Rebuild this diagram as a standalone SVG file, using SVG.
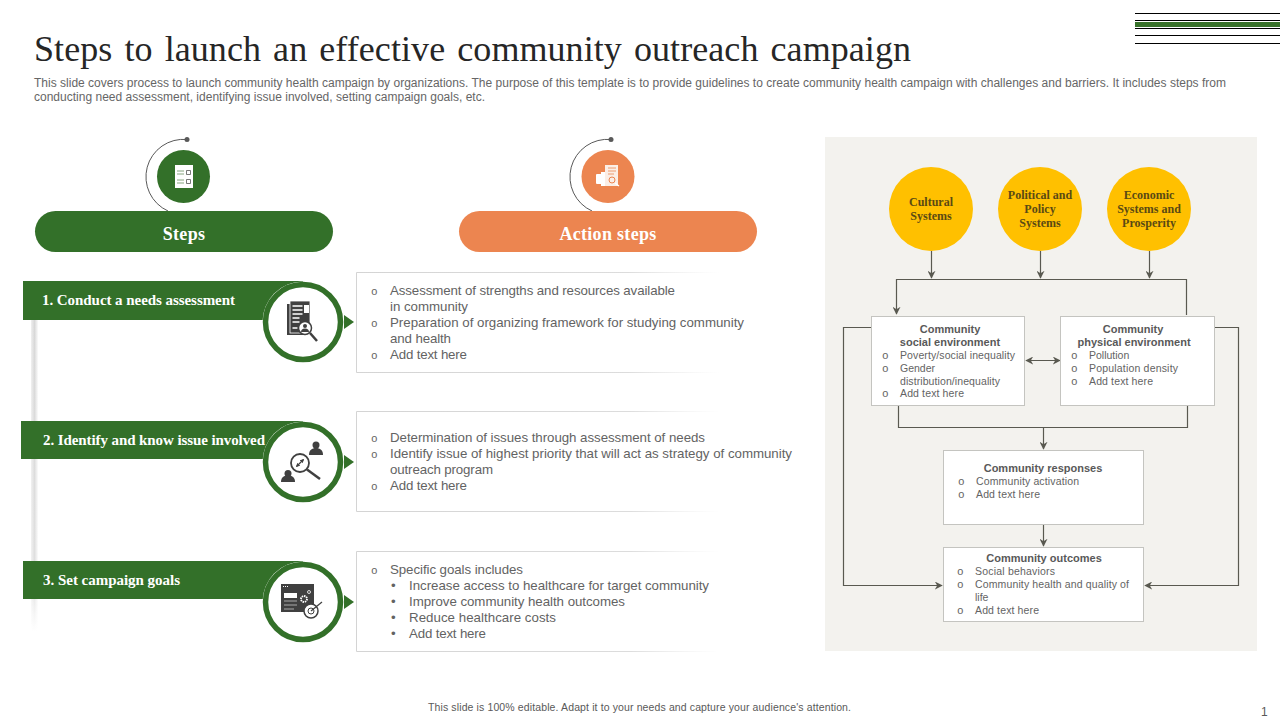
<svg xmlns="http://www.w3.org/2000/svg" width="1280" height="720" viewBox="0 0 1280 720">
<style>
text{font-family:"Liberation Sans",Arial,sans-serif;fill:#595959}
.title{font-family:"Liberation Serif","Times New Roman",serif;font-size:36px;fill:#262626}
.sub{font-size:12px;fill:#666}
.hd{font-family:"Liberation Serif","Times New Roman",serif;font-weight:bold;font-size:18px;fill:#fff;text-anchor:middle;letter-spacing:.3px}
.st{font-family:"Liberation Serif","Times New Roman",serif;font-weight:bold;font-size:15px;fill:#fff}
.b{font-size:13.3px;fill:#636363}
.o{font-family:"Liberation Mono",monospace;font-size:11px;fill:#636363}
.yt{font-family:"Liberation Serif","Times New Roman",serif;font-weight:bold;font-size:12px;fill:#5a4a14;text-anchor:middle}
.bt{font-weight:bold;font-size:11px;fill:#595959;text-anchor:middle}
.s{font-size:10.5px;fill:#636363}
.box{fill:#fff;stroke:#c4c4c0;stroke-width:1}
.con{fill:none;stroke:#595950;stroke-width:1.2}
.ic{fill:#404040}
</style>
<defs>
<marker id="ah" viewBox="0 0 10 10" refX="9" refY="5" markerWidth="8" markerHeight="8" orient="auto-start-reverse" markerUnits="userSpaceOnUse"><path d="M0 0L10 5L0 10L3 5Z" fill="#595950"/></marker>
<marker id="wa" viewBox="0 0 10 10" refX="8" refY="5" markerWidth="4" markerHeight="4" orient="auto-start-reverse" markerUnits="userSpaceOnUse"><path d="M0 0L10 5L0 10Z" fill="#404040"/></marker>
<linearGradient id="fade" x1="0" y1="0" x2="1" y2="0"><stop offset="0" stop-color="#d4d4d4"/><stop offset="0.75" stop-color="#dcdcdc"/><stop offset="1" stop-color="#e8e8e8" stop-opacity="0"/></linearGradient>
<linearGradient id="shade" x1="0" y1="0" x2="0" y2="1"><stop offset="0" stop-color="#d8d8d8"/><stop offset="0.85" stop-color="#e0e0e0"/><stop offset="1" stop-color="#e8e8e8" stop-opacity="0"/></linearGradient>
<linearGradient id="shadeh" x1="0" y1="0" x2="1" y2="0"><stop offset="0" stop-color="#fff" stop-opacity="0.6"/><stop offset="0.5" stop-color="#fff" stop-opacity="0"/><stop offset="1" stop-color="#fff" stop-opacity="0.9"/></linearGradient>
</defs>

<g id="header">
<text class="title" x="34" y="61" textLength="877" lengthAdjust="spacing" word-spacing="3">Steps to launch an effective community outreach campaign</text>
<text class="sub" x="34" y="87" textLength="1192">This slide covers process to launch community health campaign by organizations. The purpose of this template is to provide guidelines to create community health campaign with challenges and barriers. It includes steps from</text>
<text class="sub" x="34" y="101" textLength="451">conducting need assessment, identifying issue involved, setting campaign goals, etc.</text>
<g fill="#000"><rect x="1135" y="13" width="145" height="1"/><rect x="1135" y="20" width="145" height="1"/><rect x="1135" y="28" width="145" height="1"/><rect x="1135" y="35" width="145" height="1"/><rect x="1135" y="43" width="145" height="1"/></g>
<rect x="1135" y="22" width="145" height="5" fill="#38722a"/>
</g>

<rect x="31" y="320" width="7" height="312" fill="url(#shade)"/>
<rect x="31" y="320" width="7" height="312" fill="url(#shadeh)"/>

<g id="steps-head">
<path d="M187 139.500A37.500 37.500 0 0 0 168 211" fill="none" stroke="#595959" stroke-width="1"/>
<circle cx="187" cy="139.500" r="2.500" fill="#595959"/>
<circle cx="183.500" cy="176.500" r="26.500" fill="#337029"/>
<rect x="175" y="165" width="18" height="23" fill="#fff"/>
<path d="M177 171h7M177 174h7M177 180h7M177 183h7" stroke="#6a8f5f" stroke-width="0.8"/>
<path d="M186.500 170.500h4v4h-4zM186.500 179.500h4v4h-4z" fill="none" stroke="#555" stroke-width="0.8"/>
<rect x="35" y="211" width="298" height="41" rx="20.500" fill="#337029"/>
<text class="hd" x="184" y="240">Steps</text>
</g>

<g id="action-head">
<path d="M611 139.500A37.500 37.500 0 0 0 592 211" fill="none" stroke="#595959" stroke-width="1"/>
<circle cx="611" cy="139.500" r="2.500" fill="#595959"/>
<circle cx="608" cy="176.500" r="26.500" fill="#ec8550"/>
<rect x="605" y="165" width="13" height="21" fill="#fbeee6"/>
<rect x="596" y="174" width="9" height="10" rx="1" fill="#fff"/>
<rect x="601" y="172" width="4" height="14" fill="#fff"/>
<path d="M608 168h8M608 171h8M608 174h6" stroke="#ec8550" stroke-width="0.8"/>
<circle cx="612" cy="180" r="3" fill="none" stroke="#ec8550"/>
<path d="M615 183L619 186" stroke="#fff" stroke-width="1.200"/>
<rect x="459" y="211" width="298" height="41" rx="20.500" fill="#ec8550"/>
<text class="hd" x="608" y="240">Action steps</text>
</g>

<g id="step-1">
<rect x="23" y="281" width="280" height="39" fill="#337029"/>
<text class="st" x="42" y="305" textLength="193">1. Conduct a needs assessment</text>
<circle cx="303" cy="322" r="40.500" fill="#fff"/>
<circle cx="303" cy="322" r="37.500" fill="#fff" stroke="#337029" stroke-width="5.500"/>
<path d="M344 315L354 322L344 329Z" fill="#337029"/>
<rect x="287" y="304" width="19" height="31" class="ic"/>
<rect x="290" y="301" width="20" height="32" class="ic" stroke="#fff" stroke-width="0.800"/>
<path d="M292.500 306h10M292.500 310h10M292.500 314h10M292.500 318h7M292.500 322h7M292.500 328h5" stroke="#fff" stroke-width="1.400"/>
<rect x="304" y="305" width="5" height="8" fill="#fff"/>
<circle cx="305" cy="328" r="6.500" fill="#fff" stroke="#404040" stroke-width="1.500"/>
<circle cx="305" cy="326" r="2" class="ic"/><path d="M301 332a4 3.500 0 0 1 8 0Z" class="ic"/>
<path d="M310 333L317 341" stroke="#404040" stroke-width="2.500"/>
</g>
<g id="step-1-text">
<path d="M719 272.500H356.500V372.500H719" fill="#fff" stroke="url(#fade)"/>
<text class="o" x="371" y="295">o</text><text class="b" x="390" y="295" textLength="285">Assessment of strengths and resources available</text>
<text class="b" x="390" y="311" textLength="78">in community</text>
<text class="o" x="371" y="327">o</text><text class="b" x="390" y="327" textLength="354">Preparation of organizing framework for studying community</text>
<text class="b" x="390" y="343" textLength="61">and health</text>
<text class="o" x="371" y="359">o</text><text class="b" x="390" y="359" textLength="77">Add text here</text>
</g>

<g id="step-2">
<rect x="21" y="421" width="282" height="38" fill="#337029"/>
<text class="st" x="43" y="445" textLength="222">2. Identify and know issue involved</text>
<circle cx="303" cy="462" r="40.500" fill="#fff"/>
<circle cx="303" cy="462" r="37.500" fill="#fff" stroke="#337029" stroke-width="5.500"/>
<path d="M344 455L354 462L344 469Z" fill="#337029"/>
<circle cx="316" cy="445" r="3.500" class="ic"/><path d="M309 455c0-5 3-7 7-7s7 2 7 7Z" class="ic"/>
<circle cx="288" cy="473.500" r="3.500" class="ic"/><path d="M281 482c0-5 3-6.500 7-6.500s7 1.500 7 6.500Z" class="ic"/>
<circle cx="300" cy="463" r="9" fill="#fff" stroke="#404040" stroke-width="1.800"/>
<path d="M307 469.500L320 479" stroke="#404040" stroke-width="2.500"/>
<path d="M296.500 466.500L303.500 459.500" stroke="#404040" stroke-width="1.200" marker-start="url(#wa)" marker-end="url(#wa)"/>
</g>
<g id="step-2-text">
<path d="M719 411.500H356.500V511.500H719" fill="#fff" stroke="url(#fade)"/>
<text class="o" x="371" y="442">o</text><text class="b" x="390" y="442" textLength="315">Determination of issues through assessment of needs</text>
<text class="o" x="371" y="458">o</text><text class="b" x="390" y="458" textLength="402">Identify issue of highest priority that will act as strategy of community</text>
<text class="b" x="390" y="474" textLength="103">outreach program</text>
<text class="o" x="371" y="490">o</text><text class="b" x="390" y="490" textLength="77">Add text here</text>
</g>

<g id="step-3">
<rect x="23" y="561" width="280" height="38" fill="#337029"/>
<text class="st" x="43" y="585" textLength="137">3. Set campaign goals</text>
<circle cx="303" cy="602" r="40.500" fill="#fff"/>
<circle cx="303" cy="602" r="37.500" fill="#fff" stroke="#337029" stroke-width="5.500"/>
<path d="M344 595L354 602L344 609Z" fill="#337029"/>
<path d="M281 584H314V612H281Z" class="ic"/>
<path d="M283 586.500h5" stroke="#fff" stroke-width="1" stroke-dasharray="1 1"/>
<rect x="284" y="593" width="13" height="5" fill="#fff"/>
<path d="M284 601h13M284 605h13M284 609h10" stroke="#aaa" stroke-width="1.200"/>
<circle cx="304" cy="599" r="3" fill="none" stroke="#fff" stroke-width="1.800" stroke-dasharray="1.500 .8"/>
<circle cx="309" cy="592" r="1.500" fill="none" stroke="#fff" stroke-width=".8"/>
<circle cx="311" cy="611" r="7" fill="#fff" stroke="#404040" stroke-width="1.500"/>
<circle cx="311" cy="611" r="3" fill="none" stroke="#404040"/>
<path d="M311 611L322 602" stroke="#404040" stroke-width="1.200"/>
</g>
<g id="step-3-text">
<path d="M719 551.500H356.500V651.500H719" fill="#fff" stroke="url(#fade)"/>
<text class="o" x="371" y="574">o</text><text class="b" x="390" y="574" textLength="133">Specific goals includes</text>
<text class="b" x="391" y="590">•</text><text class="b" x="409" y="590" textLength="300">Increase access to healthcare for target community</text>
<text class="b" x="391" y="606">•</text><text class="b" x="409" y="606" textLength="216">Improve community health outcomes</text>
<text class="b" x="391" y="622">•</text><text class="b" x="409" y="622" textLength="147">Reduce healthcare costs</text>
<text class="b" x="391" y="638">•</text><text class="b" x="409" y="638" textLength="77">Add text here</text>
</g>

<rect id="panel" x="825" y="137" width="432" height="514" fill="#f3f2ee"/>

<g id="connectors">
<path class="con" d="M931.500 251V278" marker-end="url(#ah)"/>
<path class="con" d="M1040.500 251V278" marker-end="url(#ah)"/>
<path class="con" d="M1149.500 251V278" marker-end="url(#ah)"/>
<path class="con" d="M1186.500 315V279.500H896.500V314" marker-end="url(#ah)"/>
<path class="con" d="M1026 360.500H1060" marker-start="url(#ah)" marker-end="url(#ah)"/>
<path class="con" d="M871 327.500H843.500V585.500H942" marker-end="url(#ah)"/>
<path class="con" d="M1215 327.500H1238.500V585.500H1145" marker-end="url(#ah)"/>
<path class="con" d="M898.500 406V427.500H1187.500V406"/>
<path class="con" d="M1043.500 427.500V449" marker-end="url(#ah)"/>
<path class="con" d="M1043.500 525V546" marker-end="url(#ah)"/>
</g>

<g id="cultural"><circle cx="931" cy="209" r="42" fill="#ffc000"/><text class="yt" x="931" y="206">Cultural</text><text class="yt" x="931" y="220">Systems</text></g>
<g id="political"><circle cx="1040" cy="209" r="42" fill="#ffc000"/><text class="yt" x="1040" y="199">Political and</text><text class="yt" x="1040" y="213">Policy</text><text class="yt" x="1040" y="227">Systems</text></g>
<g id="economic"><circle cx="1149" cy="209" r="42" fill="#ffc000"/><text class="yt" x="1149" y="199">Economic</text><text class="yt" x="1149" y="213">Systems and</text><text class="yt" x="1149" y="227">Prosperity</text></g>

<g id="social">
<rect class="box" x="871.500" y="316.500" width="153" height="89"/>
<text class="bt" x="950" y="333">Community</text><text class="bt" x="950" y="346">social environment</text>
<text class="o" x="882" y="359">o</text><text class="s" x="900" y="359" textLength="115">Poverty/social inequality</text>
<text class="o" x="882" y="372">o</text><text class="s" x="900" y="372">Gender</text>
<text class="s" x="900" y="385" textLength="100">distribution/inequality</text>
<text class="o" x="882" y="397">o</text><text class="s" x="900" y="397" textLength="64">Add text here</text>
</g>
<g id="physical">
<rect class="box" x="1060.500" y="316.500" width="154" height="89"/>
<text class="bt" x="1133" y="333">Community</text><text class="bt" x="1134" y="346">physical environment</text>
<text class="o" x="1071" y="359">o</text><text class="s" x="1089" y="359">Pollution</text>
<text class="o" x="1071" y="372">o</text><text class="s" x="1089" y="372" textLength="89">Population density</text>
<text class="o" x="1071" y="385">o</text><text class="s" x="1089" y="385" textLength="64">Add text here</text>
</g>
<g id="responses">
<rect class="box" x="943.500" y="450.500" width="200" height="74"/>
<text class="bt" x="1043" y="472">Community responses</text>
<text class="o" x="958" y="485">o</text><text class="s" x="976" y="485" textLength="103">Community activation</text>
<text class="o" x="958" y="498">o</text><text class="s" x="976" y="498" textLength="64">Add text here</text>
</g>
<g id="outcomes">
<rect class="box" x="943.500" y="547.500" width="200" height="74"/>
<text class="bt" x="1044" y="562">Community outcomes</text>
<text class="o" x="957" y="575">o</text><text class="s" x="975" y="575" textLength="80">Social behaviors</text>
<text class="o" x="957" y="588">o</text><text class="s" x="975" y="588" textLength="154">Community health and quality of</text>
<text class="s" x="975" y="601">life</text>
<text class="o" x="957" y="614">o</text><text class="s" x="975" y="614" textLength="64">Add text here</text>
</g>

<g id="footer">
<text x="428" y="711" font-size="10.500" textLength="423">This slide is 100% editable. Adapt it to your needs and capture your audience's attention.</text>
<text x="1261" y="716" font-size="12">1</text>
</g>
</svg>
